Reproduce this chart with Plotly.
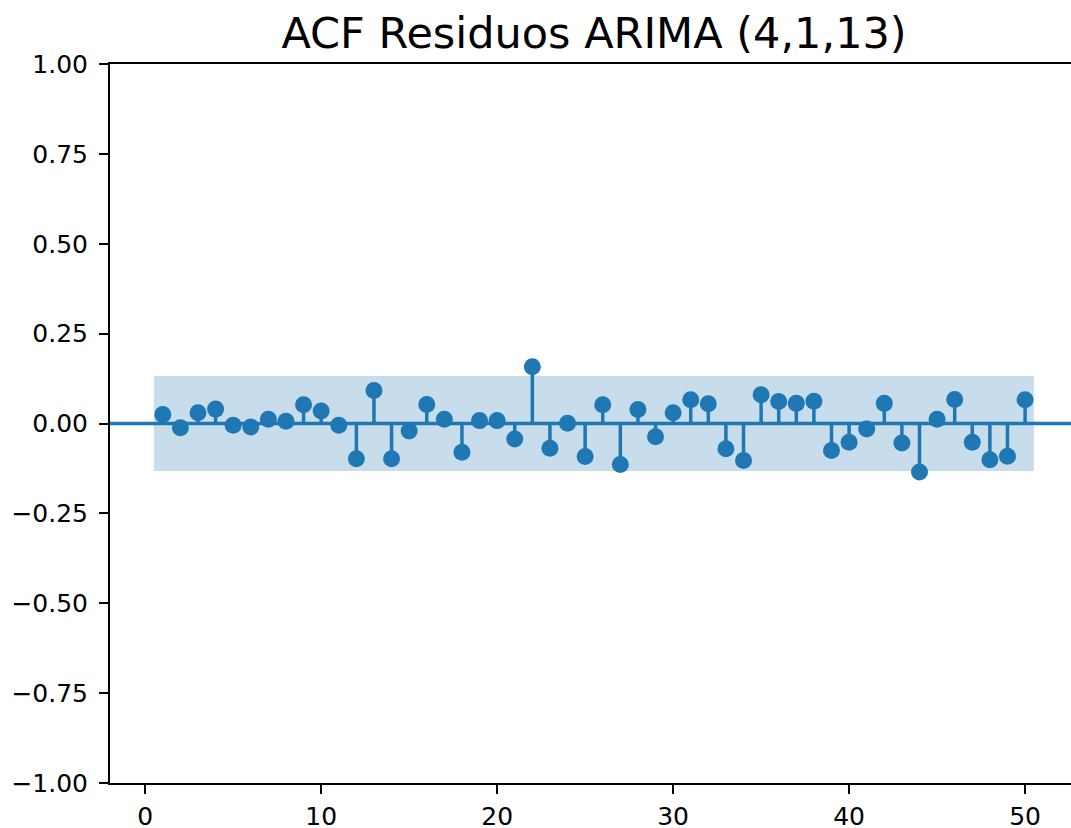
import plotly.graph_objects as go

lags = list(range(1, 51))
acf_vals = [0.025, -0.012, 0.030, 0.040, -0.005, -0.010, 0.012, 0.006, 0.052, 0.035,
            -0.005, -0.098, 0.092, -0.098, -0.021, 0.053, 0.012, -0.080, 0.008, 0.008,
            -0.043, 0.158, -0.069, 0.001, -0.092, 0.052, -0.114, 0.039, -0.037, 0.030,
            0.066, 0.055, -0.070, -0.103, 0.080, 0.061, 0.056, 0.062, -0.075, -0.052,
            -0.015, 0.056, -0.054, -0.135, 0.012, 0.067, -0.052, -0.101, -0.091, 0.066]
conf_x = [0.5, 50.5]
conf_bound = 0.132
x_ticks = [0, 10, 20, 30, 40, 50]
y_ticks = [-1.0, -0.75, -0.5, -0.25, 0.0, 0.25, 0.5, 0.75, 1.0]
title = "ACF Residuos ARIMA (4,1,13)"

blue = "#1f77b4"
font_family = "DejaVu Sans"

fig = go.Figure()

# confidence band
fig.add_trace(go.Scatter(
    x=[conf_x[0], conf_x[1], conf_x[1], conf_x[0], conf_x[0]],
    y=[conf_bound, conf_bound, -conf_bound, -conf_bound, conf_bound],
    fill="toself", fillcolor="rgba(31,119,180,0.25)",
    line=dict(width=0), mode="lines", hoverinfo="skip", showlegend=False))

# stems
sx, sy = [], []
for l, v in zip(lags, acf_vals):
    sx += [l, l, None]
    sy += [0, v, None]
fig.add_trace(go.Scatter(x=sx, y=sy, mode="lines",
                         line=dict(color=blue, width=3.5), showlegend=False))

# markers
fig.add_trace(go.Scatter(x=lags, y=acf_vals, mode="markers",
                         marker=dict(color=blue, size=17), showlegend=False))

# zero line
fig.add_shape(type="line", xref="paper", x0=0, x1=1, yref="y", y0=0, y1=0,
              line=dict(color=blue, width=3.5), layer="above")

fig.update_layout(
    width=1071, height=828,
    margin=dict(l=110, r=0, t=64, b=45),
    plot_bgcolor="white", paper_bgcolor="white",
    font=dict(family=font_family, size=25, color="black"),
    title=dict(text=title, x=594 / 1071, xanchor="center", xref="container",
               y=1 - 33 / 828, yanchor="middle",
               font=dict(family=font_family, size=43, color="black")),
    xaxis=dict(range=[-2.0, 52.61], tickvals=x_ticks, showgrid=False, zeroline=False,
               showline=True, linecolor="black", linewidth=2, mirror=True,
               ticks="outside", ticklen=9, tickwidth=2, tickcolor="black",
               ticklabelstandoff=1, automargin=False),
    yaxis=dict(range=[-1, 1], tickvals=y_ticks, tickformat=".2f", showgrid=False,
               zeroline=False, showline=True, linecolor="black", linewidth=2,
               ticks="outside", ticklen=9, tickwidth=2, tickcolor="black",
               ticklabelstandoff=6, automargin=False),
)

fig.write_html("out.html")
